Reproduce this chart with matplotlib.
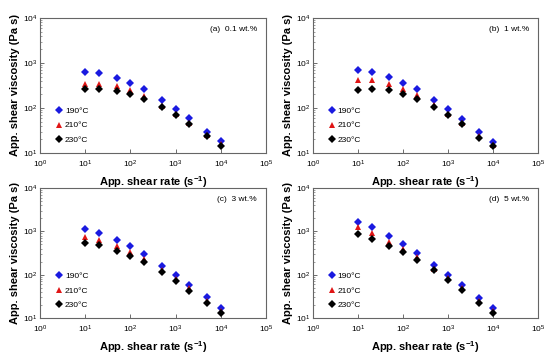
import numpy as np
import matplotlib
matplotlib.use("Agg")
import matplotlib.pyplot as plt
from matplotlib.ticker import LogLocator, NullFormatter

plt.rcParams['font.family'] = ['Liberation Sans', 'DejaVu Sans']
plt.rcParams['mathtext.fontset'] = 'custom'
plt.rcParams['mathtext.rm'] = 'Liberation Sans'
plt.rcParams['mathtext.bf'] = 'Liberation Sans:bold'

shear_rate = [10, 20, 50, 100, 200, 500, 1000, 2000, 5000, 10000]
temps = ["190°C", "210°C", "230°C"]
panel_titles = ["(a)  0.1 wt.%", "(b)  1 wt.%", "(c)  3 wt.%", "(d)  5 wt.%"]

# viscosity (Pa s) per panel, per temperature
visc_a_190 = [644, 590, 457, 359, 259, 152, 96, 59, 30, 18.5]
visc_a_210 = [347, 350, 308, 250, 184, 110, 75, 47.5, 25, 16]
visc_a_230 = [259, 262, 238, 200, 158, 103, 69, 45, 23.5, 14.6]

visc_b_190 = [701, 633, 490, 366, 259, 150, 96, 58, 29, 18]
visc_b_210 = [412, 412, 336, 269, 194, 114, 74, 47, 24, 15.3]
visc_b_230 = [246, 269, 246, 204, 160, 104, 69, 44, 22, 14]

visc_c_190 = [1140, 936, 633, 451, 294, 158, 97.5, 58, 30, 17]
visc_c_210 = [756, 633, 459, 333, 225, 125, 79, 48, 25, 14.3]
visc_c_230 = [548, 475, 351, 264, 195, 115, 71, 43, 22, 13]

visc_d_190 = [1641, 1236, 767, 510, 322, 164, 98, 59, 29, 17.3]
visc_d_210 = [1236, 916, 568, 385, 251, 135, 82, 49, 25, 14.8]
visc_d_230 = [883, 678, 467, 340, 222, 126, 77, 45, 22, 13]

panels = [
    [visc_a_190, visc_a_210, visc_a_230],
    [visc_b_190, visc_b_210, visc_b_230],
    [visc_c_190, visc_c_210, visc_c_230],
    [visc_d_190, visc_d_210, visc_d_230],
]

styles = [("D", "#1a1ae0", 3.6), ("^", "#e01515", 4.6), ("D", "#000000", 3.6)]

W, H = 550, 359
fig = plt.figure(figsize=(W / 100, H / 100), dpi=100)

# axes boxes in pixels: left, right, top, bottom
boxes = [(40, 266, 18, 153), (313, 538, 18, 153),
         (40, 266, 188, 318), (313, 538, 188, 318)]

for i, (l, r, t, b) in enumerate(boxes):
    ax = fig.add_axes([l / W, 1 - b / H, (r - l) / W, (b - t) / H])
    for series, (m, c, ms) in zip(panels[i], styles):
        ax.plot(shear_rate, series, linestyle="none", marker=m, color=c,
                markersize=ms, markeredgewidth=0)
    ax.set_xscale("log")
    ax.set_yscale("log")
    ax.set_xlim(1, 1e5)
    ax.set_ylim(10, 1e4)
    ax.xaxis.set_major_locator(LogLocator(base=10, numticks=10))
    ax.yaxis.set_major_locator(LogLocator(base=10, numticks=10))
    ax.xaxis.set_minor_locator(LogLocator(base=10, subs=np.arange(2, 10), numticks=10))
    ax.xaxis.set_minor_formatter(NullFormatter())
    ax.yaxis.set_minor_locator(LogLocator(base=10, subs=np.arange(2, 10), numticks=10))
    ax.yaxis.set_minor_formatter(NullFormatter())
    ax.tick_params(which="both", direction="in", labelsize=6, color="#555555")
    ax.tick_params(which="major", length=3, width=0.6)
    ax.tick_params(which="minor", length=1.5, width=0.4)
    ax.tick_params(axis="x", which="minor", length=0)
    ax.tick_params(axis="x", pad=4)
    ax.tick_params(axis="y", pad=2)
    for s in ax.spines.values():
        s.set_color("#666666")
        s.set_linewidth(0.8)
    ax.set_xlabel(r"App. shear rate (s$\mathbf{^{-1}}$)", fontsize=8,
                  fontweight="bold", labelpad=3)
    ax.set_ylabel("App. shear viscosity (Pa s)", fontsize=8, fontweight="bold",
                  labelpad=2)
    ax.text(0.96, 0.915, panel_titles[i], transform=ax.transAxes, ha="right",
            va="center", fontsize=6)
    handles = [ax.plot([], [], linestyle="none", marker=m, color=c, markersize=ms,
                       markeredgewidth=0)[0] for (m, c, ms) in styles]
    ax.legend(handles, temps, loc="lower left", bbox_to_anchor=(0.04, 0.03),
              frameon=False, fontsize=6, handletextpad=0.1, labelspacing=0.8,
              handlelength=1.2, borderaxespad=0.2)

fig.savefig("out.png", dpi=100)
